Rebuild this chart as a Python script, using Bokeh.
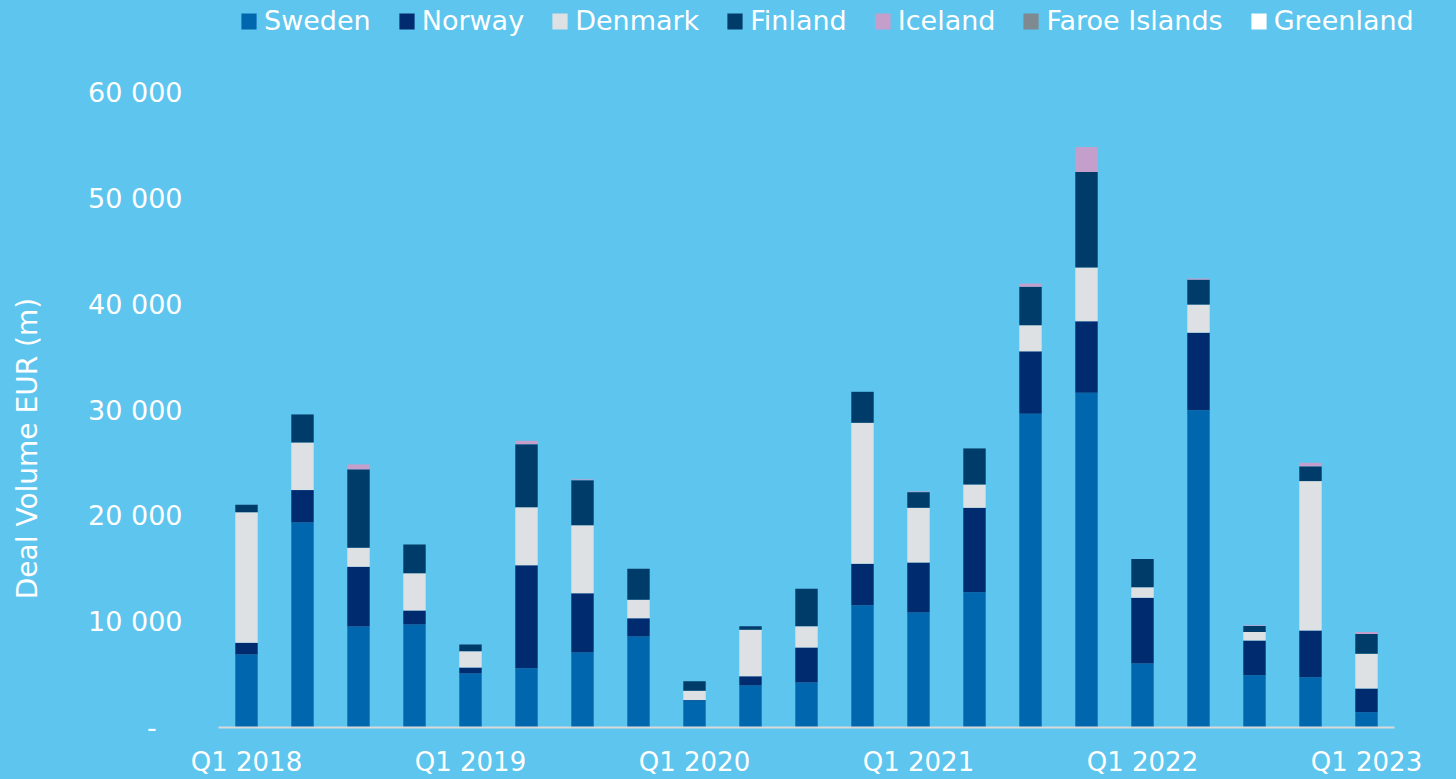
from bokeh.plotting import figure
from bokeh.models import ColumnDataSource, Range1d, FixedTicker, Legend, LegendItem
from bokeh.embed import file_html
from bokeh.resources import INLINE

quarters = ["Q1 2018", "Q2 2018", "Q3 2018", "Q4 2018",
            "Q1 2019", "Q2 2019", "Q3 2019", "Q4 2019",
            "Q1 2020", "Q2 2020", "Q3 2020", "Q4 2020",
            "Q1 2021", "Q2 2021", "Q3 2021", "Q4 2021",
            "Q1 2022", "Q2 2022", "Q3 2022", "Q4 2022",
            "Q1 2023"]
shown_labels = ["Q1 2018", "Q1 2019", "Q1 2020", "Q1 2021", "Q1 2022", "Q1 2023"]

countries = ["Sweden", "Norway", "Denmark", "Finland", "Iceland", "Faroe Islands", "Greenland"]

sweden  = [6900, 19370, 9550, 9730, 5100, 5600, 7090, 8600, 2550, 3970, 4250, 11560,
           10870, 12790, 29650, 31640, 6040, 29980, 4940, 4750, 1440]
norway  = [1100, 3060, 5640, 1330, 570, 9740, 5600, 1730, 50, 880, 3310, 3910,
           4720, 7970, 5890, 6740, 6220, 7330, 3270, 4420, 2240]
denmark = [12350, 4500, 1800, 3520, 1540, 5480, 6430, 1740, 870, 4380, 2010, 13320,
           5170, 2200, 2470, 5080, 1000, 2650, 810, 14110, 3280]
finland = [700, 2650, 7400, 2710, 630, 5950, 4250, 2930, 910, 340, 3540, 2930,
           1480, 3410, 3640, 9020, 2650, 2360, 560, 1400, 1880]
iceland = [0, 0, 470, 0, 0, 320, 80, 0, 0, 0, 0, 0,
           60, 0, 300, 2360, 0, 110, 70, 330, 180]
faroe   = [0] * 21
greenland = [0] * 21

y_ticks = [0, 10000, 20000, 30000, 40000, 50000, 60000]
y_tick_labels = ["-\u00a0\u00a0\u00a0", "10 000", "20 000", "30 000", "40 000", "50 000", "60 000"]
y_title = "Deal Volume EUR (m)"

colors = ["#0066AD", "#002B6F", "#DEE1E4", "#003C69", "#C49FCC", "#7F8990", "#FFFFFF"]
BG = "#5DC5EE"

# layout constants (pixels)
W, H = 1456, 779
FRAME_LEFT = 218          # left edge of the category area
CAT_PX = 56               # width of one category slot
FRAME_H = 727             # frame runs from the top of the figure to the x axis line
TICK_TOP_PX = 92          # where the top tick (60 000) sits
n = len(quarters)
x_pos = list(range(n))
y_end = max(y_ticks) * FRAME_H / (FRAME_H - TICK_TOP_PX)
x_end = (W - FRAME_LEFT) / CAT_PX - 0.5   # frame reaches the right edge so the legend is not clipped

source = ColumnDataSource(data={
    "x": x_pos,
    "quarter": quarters,
    "Sweden": sweden,
    "Norway": norway,
    "Denmark": denmark,
    "Finland": finland,
    "Iceland": iceland,
    "Faroe Islands": faroe,
    "Greenland": greenland,
})

p = figure(x_range=Range1d(-0.5, x_end), y_range=Range1d(0, y_end), title=None,
           width=W, height=H, output_backend="svg", toolbar_location=None,
           min_border_left=FRAME_LEFT, min_border_right=0, min_border_top=0,
           min_border_bottom=H - FRAME_H)
p.background_fill_color = BG
p.border_fill_color = BG
p.outline_line_color = None
p.xgrid.visible = False
p.ygrid.visible = False

renderers = p.vbar_stack(countries, x="x", width=0.4, color=colors,
                         line_color=None, source=source)

legend = Legend(items=[LegendItem(label=c, renderers=[r]) for c, r in zip(countries, renderers)],
                orientation="horizontal", location=(21, FRAME_H - 36),
                glyph_width=19, glyph_height=20, label_standoff=6, spacing=26,
                padding=0, margin=0, border_line_color=None, background_fill_alpha=0,
                label_text_color="white", label_text_font="DejaVu Sans",
                label_text_font_size="27px")
p.add_layout(legend)

xa = p.xaxis[0]
xa.bounds = (-0.5, n - 0.5)
xa.ticker = FixedTicker(ticks=[quarters.index(q) for q in shown_labels], minor_ticks=[])
xa.major_label_overrides = {quarters.index(q): q for q in shown_labels}
xa.axis_line_color = "#D9D9D9"
xa.axis_line_width = 2
xa.major_tick_line_color = None
xa.minor_tick_line_color = None
xa.major_tick_out = 0
xa.major_tick_in = 0
xa.major_label_standoff = 19
xa.major_label_text_font = "DejaVu Sans"
xa.major_label_text_font_size = "26px"
xa.major_label_text_color = "white"

ya = p.yaxis[0]
ya.ticker = FixedTicker(ticks=y_ticks, minor_ticks=[])
ya.major_label_overrides = dict(zip(y_ticks, y_tick_labels))
ya.axis_line_color = None
ya.major_tick_line_color = None
ya.minor_tick_line_color = None
ya.major_tick_out = 0
ya.major_tick_in = 0
ya.major_label_standoff = 36
ya.major_label_text_font = "DejaVu Sans"
ya.major_label_text_font_size = "27px"
ya.major_label_text_color = "white"
# trailing no-break spaces move the (centred) title down, to where the reference has it
ya.axis_label = y_title + "\u00a0" * 19
ya.axis_label_text_font = "DejaVu Sans"
ya.axis_label_text_font_size = "28px"
ya.axis_label_text_font_style = "normal"
ya.axis_label_text_color = "white"
ya.axis_label_standoff = 41

html = file_html(p, INLINE)
html = html.replace("</head>", "<style>body{background:%s;}</style></head>" % BG, 1)
open("out.html", "w").write(html)
